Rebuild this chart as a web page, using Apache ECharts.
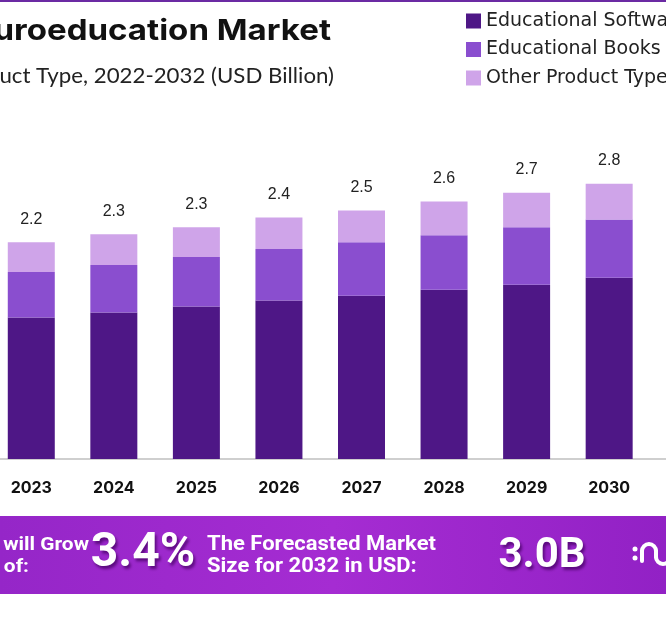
<!DOCTYPE html>
<html><head><meta charset="utf-8">
<script src="https://cdn.jsdelivr.net/npm/echarts@6/dist/echarts.min.js"></script>
<style>html,body{margin:0;padding:0;background:#fff}#c{width:666px;height:619px}</style>
</head><body><div id="c"></div>
<script>
const years = ['2023','2024','2025','2026','2027','2028','2029','2030','2031'];
const software = [1.43, 1.48, 1.54, 1.60, 1.65, 1.71, 1.76, 1.83];
const books    = [0.46, 0.48, 0.50, 0.52, 0.54, 0.55, 0.58, 0.59];
const other    = [0.30, 0.31, 0.30, 0.32, 0.32, 0.34, 0.35, 0.36];
const seriesNames = ['Educational Software', 'Educational Books', 'Other Product Types'];
const colors = ['#4e1786', '#8a4ecf', '#cfa4e9'];
const titleText = 'Neuroeducation Market';
const subtitleText = 'By Product Type, 2022-2032 (USD Billion)';
const cagrLines = ['The Market will Grow', 'At the CAGR of:'];
const cagrValue = '3.4%';
const forecastLines = ['The Forecasted Market', 'Size for 2032 in USD:'];
const forecastValue = '3.0B';

const chart = echarts.init(document.getElementById('c'));
const totals = software.map((v, i) => v + books[i] + other[i]);

const mk = (name, data, color, isTop) => ({
  name, type: 'bar', stack: 'total', data, barWidth: 47,
  itemStyle: { color },
  label: isTop ? {
    show: true, position: 'top', distance: 15, color: '#222',
    fontFamily: 'Liberation Sans', fontSize: 16,
    formatter: p => totals[p.dataIndex].toFixed(1)
  } : { show: false }
});

const shadow = { textShadowColor: 'rgba(70,0,100,0.75)', textShadowOffsetX: 2, textShadowOffsetY: 3, textShadowBlur: 3 };
const logoStroke = { stroke: '#fff', lineWidth: 4, lineCap: 'round', fill: 'none' };

chart.setOption({
  backgroundColor: '#fff',
  animation: false,
  legend: {
    orient: 'vertical', left: 466, top: 11, padding: 0, itemWidth: 15, itemHeight: 15, itemGap: 8.5,
    icon: 'rect', data: seriesNames,
    textStyle: { fontFamily: 'DejaVu Sans', fontSize: 19, color: '#222', lineHeight: 20 }
  },
  grid: { left: -10, top: 63, width: 743, height: 396, outerBoundsMode: 'none', containLabel: false },
  xAxis: {
    type: 'category', data: years,
    axisLine: { lineStyle: { color: '#cfcfcf', width: 2 } },
    axisTick: { show: false },
    axisLabel: { margin: 21, color: '#111', fontFamily: 'Inter', fontWeight: 'bold', fontSize: 16 }
  },
  yAxis: { type: 'value', min: 0, max: 4, show: false, splitLine: { show: false } },
  series: [
    mk(seriesNames[0], software, colors[0], false),
    mk(seriesNames[1], books, colors[1], false),
    mk(seriesNames[2], other, colors[2], true)
  ],
  graphic: [
    { type: 'rect', shape: { x: 0, y: 0, width: 666, height: 2 }, style: { fill: '#6b2aa3' } },
    { type: 'text', x: 331, y: 31, scaleX: 1.14, style: { text: titleText, align: 'right', verticalAlign: 'middle',
      font: 'bold 29px Inter', fill: '#111' } },
    { type: 'text', x: 334, y: 76, scaleX: 1.06, style: { text: subtitleText, align: 'right', verticalAlign: 'middle',
      font: '21px Lato', fill: '#222' } },
    { type: 'rect', shape: { x: 0, y: 516, width: 666, height: 78 },
      style: { fill: new echarts.graphic.LinearGradient(0, 0, 1, 0, [
        { offset: 0, color: '#9526c8' }, { offset: 0.5, color: '#a52cd2' }, { offset: 1, color: '#9221c5' }]) } },
    { type: 'text', x: 89, y: 545, scaleX: 1.1, style: { text: cagrLines[0], align: 'right', verticalAlign: 'middle',
      font: 'bold 19px Roboto', fill: '#fff' } },
    { type: 'text', x: 29, y: 567, scaleX: 1.1, style: { text: cagrLines[1], align: 'right', verticalAlign: 'middle',
      font: 'bold 19px Roboto', fill: '#fff' } },
    { type: 'text', x: 143, y: 554, style: Object.assign({ text: cagrValue, align: 'center', verticalAlign: 'middle',
      font: 'bold 48px Roboto', fill: '#fff' }, shadow) },
    { type: 'text', x: 207, y: 545, scaleX: 1.1, style: { text: forecastLines[0], align: 'left', verticalAlign: 'middle',
      font: 'bold 20px Roboto', fill: '#fff' } },
    { type: 'text', x: 207, y: 567, scaleX: 1.1, style: { text: forecastLines[1], align: 'left', verticalAlign: 'middle',
      font: 'bold 20px Roboto', fill: '#fff' } },
    { type: 'text', x: 542, y: 556, style: Object.assign({ text: forecastValue, align: 'center', verticalAlign: 'middle',
      font: 'bold 42px Roboto', fill: '#fff' }, shadow) },
    { type: 'circle', shape: { cx: 635, cy: 549, r: 2.5 }, style: { fill: '#fff' } },
    { type: 'circle', shape: { cx: 635, cy: 558, r: 2.5 }, style: { fill: '#fff' } },
    { type: 'line', shape: { x1: 642, y1: 561, x2: 642, y2: 551 }, style: logoStroke },
    { type: 'arc', shape: { cx: 649, cy: 551, r: 7, startAngle: Math.PI, endAngle: 2 * Math.PI }, style: logoStroke },
    { type: 'line', shape: { x1: 656, y1: 551, x2: 656, y2: 557 }, style: logoStroke },
    { type: 'arc', shape: { cx: 663, cy: 557, r: 7, startAngle: Math.PI, endAngle: 0, clockwise: false }, style: logoStroke }
  ]
});
</script></body></html>
